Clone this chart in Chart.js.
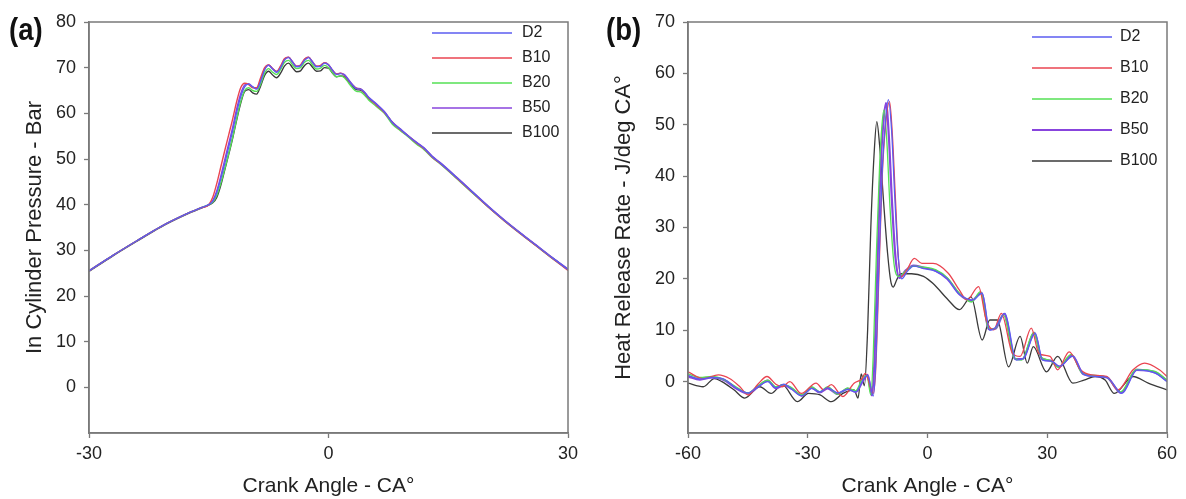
<!DOCTYPE html>
<html>
<head>
<meta charset="utf-8">
<script src="https://cdn.jsdelivr.net/npm/chart.js@4.4.1/dist/chart.umd.min.js"></script>
<style>
	html, body { margin: 0; padding: 0; background: #fff; }
	.charts { position: relative; width: 1186px; height: 499px; overflow: hidden; }
	.charts canvas { position: absolute; top: 0; }
	#chart__pressure { left: 0; }
	#chart__hrr { left: 593px; }
</style>
</head>
<body>
<div class="charts">
	<canvas id="chart__pressure" width="593" height="499"></canvas>
	<canvas id="chart__hrr" width="593" height="499"></canvas>
</div>
<script>
// Axis ticks
const pressureXTicks = [-30, 0, 30];
const pressureYTicks = [0, 10, 20, 30, 40, 50, 60, 70, 80];
const hrrXTicks = [-60, -30, 0, 30, 60];
const hrrYTicks = [0, 10, 20, 30, 40, 50, 60, 70];

const fuelLabels = ["D2", "B10", "B20", "B50", "B100"];

// (a) in cylinder pressure, bar
const pressureAngle = [-30, -27, -24, -21, -18, -16, -15, -14.5, -14, -13.5, -13, -12.5, -12, -11.5, -11, -10.5, -10, -9.5, -9, -8.5, -8, -7.5, -7, -6.5, -6, -5.5, -5, -4.5, -4, -3.5, -3, -2.5, -2, -1.5, -1, -0.5, 0, 0.5, 1, 1.5, 2, 2.5, 3, 3.5, 4, 4.5, 5, 6, 7, 8, 9, 10, 11, 12, 13, 14, 16, 18, 20, 22, 24, 26, 28, 30];
const pressureD2 = [25.5, 28.9, 32.1, 35.2, 37.8, 39.3, 40.0, 40.7, 42.6, 45.6, 49.0, 52.6, 56.2, 60.2, 63.6, 65.8, 66.4, 65.8, 65.3, 67.0, 69.5, 70.5, 69.7, 69.0, 70.0, 71.7, 72.2, 71.2, 70.2, 70.4, 71.6, 72.2, 71.2, 70.2, 70.3, 71.0, 70.6, 69.4, 68.5, 68.7, 68.4, 67.3, 66.2, 65.4, 65.3, 64.6, 63.5, 62.0, 60.3, 58.0, 56.5, 55.0, 53.6, 52.3, 50.5, 49.1, 46.0, 42.8, 39.6, 36.6, 33.8, 31.1, 28.4, 25.8];
const pressureB10 = [25.5, 28.9, 32.1, 35.2, 37.8, 39.3, 40.0, 41.6, 44.6, 48.2, 51.8, 55.3, 58.8, 62.6, 65.6, 66.6, 66.3, 65.6, 65.6, 67.8, 70.0, 70.6, 69.8, 69.2, 70.4, 72.0, 72.3, 71.2, 70.3, 70.6, 71.9, 72.3, 71.2, 70.3, 70.5, 71.1, 70.6, 69.4, 68.6, 68.8, 68.3, 67.2, 66.2, 65.5, 65.3, 64.5, 63.4, 61.8, 60.2, 58.0, 56.4, 55.0, 53.5, 52.2, 50.4, 49.0, 45.9, 42.7, 39.5, 36.5, 33.7, 31.0, 28.3, 25.6];
const pressureB20 = [25.5, 28.9, 32.1, 35.2, 37.8, 39.3, 40.0, 40.5, 42.0, 44.6, 47.8, 51.2, 54.8, 58.8, 62.5, 65.0, 65.6, 65.0, 64.8, 66.4, 68.8, 69.8, 69.0, 68.5, 69.6, 71.2, 71.6, 70.6, 69.8, 70.0, 71.2, 71.6, 70.6, 69.7, 69.9, 70.5, 70.0, 68.9, 68.0, 68.2, 67.8, 66.7, 65.6, 64.8, 64.7, 64.0, 63.0, 61.5, 60.0, 57.6, 56.2, 54.8, 53.3, 52.0, 50.3, 48.9, 45.8, 42.6, 39.5, 36.5, 33.7, 31.0, 28.3, 25.7];
const pressureB50 = [25.5, 28.9, 32.1, 35.2, 37.8, 39.3, 40.0, 40.9, 43.0, 46.2, 49.8, 53.4, 57.0, 61.0, 64.3, 66.2, 66.5, 65.8, 65.4, 67.2, 69.8, 70.6, 69.8, 69.1, 70.2, 71.9, 72.3, 71.3, 70.3, 70.5, 71.8, 72.3, 71.3, 70.3, 70.4, 71.1, 70.7, 69.5, 68.6, 68.8, 68.5, 67.4, 66.3, 65.5, 65.4, 64.7, 63.6, 62.1, 60.4, 58.1, 56.6, 55.1, 53.7, 52.4, 50.6, 49.2, 46.1, 42.9, 39.7, 36.7, 33.9, 31.2, 28.5, 25.9];
const pressureB100 = [25.4, 28.8, 32.0, 35.1, 37.7, 39.2, 39.9, 40.4, 41.6, 44.2, 47.6, 51.0, 54.6, 58.6, 62.2, 64.8, 65.2, 64.5, 64.2, 66.0, 68.3, 69.2, 68.4, 67.8, 68.8, 70.4, 71.0, 70.0, 69.1, 69.3, 70.5, 71.0, 70.1, 69.2, 69.3, 70.0, 69.9, 68.8, 68.0, 68.2, 68.0, 67.0, 66.0, 65.2, 65.1, 64.4, 63.3, 61.9, 60.2, 58.0, 56.4, 55.0, 53.6, 52.3, 50.5, 49.1, 46.0, 42.8, 39.6, 36.6, 33.8, 31.1, 28.4, 25.8];

// (b) heat release rate, J/deg CA (each fuel has its own angles)
const hrrAngleD2 = [-60, -57, -54, -51, -48, -45, -42.5, -40, -38, -36, -34, -31.5, -29, -27, -25, -22.5, -20, -18, -16, -15, -13.6, -13, -12.2, -11.4, -10.6, -9.8, -9, -8.2, -7.4, -6.5, -5, -3.5, -1, 2, 5, 8, 11.3, 13.7, 15.6, 17, 19.4, 22.2, 24, 27, 28.8, 31, 33, 36.4, 39, 42, 45, 48.7, 52.5, 57.2, 60];
const hrrD2 = [1.2, 0.5, 0.8, 0.5, -1.2, -2.2, -1, 0, -1.2, -0.5, -1.5, -2.8, -1.3, -2, -1.2, -2.2, -1.5, -2, 0.5, 1.2, -2.8, 3, 22, 40, 50, 54.9, 49, 36, 25, 20, 21.5, 22.5, 22, 21.5, 20, 17, 15.9, 17.2, 10, 10.5, 13.3, 4.2, 4.5, 9.4, 4.2, 4, 3, 4.9, 1.5, 1, 0.8, -2.3, 2.3, 1.6, 0];
const hrrAngleB10 = [-60, -56.2, -52.4, -49.6, -47, -44.9, -42.5, -40.2, -38, -36.4, -34.5, -31.6, -27.9, -26, -24.1, -21.2, -18.4, -16.5, -15.6, -13.6, -13, -12.2, -11.4, -10.5, -9.5, -8.8, -8, -7.3, -6.6, -5.2, -3.3, -1.4, 1.4, 5.2, 8, 9.9, 12.8, 14.7, 16.6, 18.5, 21.3, 23.2, 26, 27.9, 30.7, 32.6, 35.5, 38.3, 41.1, 44.9, 47.7, 51.5, 54.4, 58.1, 60];
const hrrB10 = [1.9, 0.6, 1.3, 0.6, -1, -2.6, -0.5, 1, -0.5, -1, 0, -2.3, -0.3, -1.6, -0.6, -2.9, -0.3, 0.5, 1.6, -2.3, 2, 20, 39, 50, 54.5, 48, 35, 24, 20.4, 21.7, 24, 23, 23, 21.1, 17.8, 15.9, 18.5, 12, 10.1, 13.3, 5.5, 4.9, 10.4, 5.5, 4.9, 2.3, 5.8, 2.3, 1.3, 1, -1.6, 2.3, 3.6, 2.3, 1];
const hrrAngleB20 = [-60, -57, -54, -51, -48, -45, -42.5, -40, -38, -36, -34, -31.5, -29, -27, -25, -22.5, -20, -18, -16.2, -15.2, -14.2, -13.6, -12.8, -12, -11.4, -10.9, -10.2, -9.4, -8.4, -7.2, -5.5, -3.5, -1, 2, 5, 8, 11, 13.3, 15.2, 16.8, 19, 21.8, 23.6, 26.6, 28.4, 30.6, 32.8, 36, 38.8, 42, 45, 48.4, 52.3, 57, 60];
const hrrB20 = [1.5, 0.8, 1, 0.4, -1, -2.2, -0.8, 0.3, -1, -0.6, -1.2, -2.6, -1, -2, -1, -2.5, -1.2, -1.8, 0.8, 1.2, -2.6, 5, 25, 42, 50, 52.9, 47, 34, 23, 20.5, 21.5, 22.5, 22.3, 21.8, 20.2, 17.2, 15.5, 17.5, 10.5, 10.2, 13, 4.6, 4.2, 9.6, 4.8, 4.2, 2.8, 5.3, 1.6, 1.2, 0.8, -2, 2.4, 2, 0.3];
const hrrAngleB50 = [-60, -57, -54, -51, -48, -45, -42.5, -40, -38, -36, -34, -31.5, -29, -27, -25, -22.5, -20, -18, -16, -15, -13.9, -13.3, -12.5, -11.8, -11.1, -10.4, -9.7, -8.9, -8, -7, -5.5, -3.5, -1, 2, 5, 8, 11, 13.5, 15.4, 17, 19.2, 22, 23.8, 26.8, 28.6, 30.8, 33, 36.2, 39, 42, 45, 48.5, 52.4, 57, 60];
const hrrB50 = [1, 0.4, 0.8, 0.3, -1.3, -2.3, -1, 0.2, -1.3, -0.7, -1.4, -2.7, -1.2, -2.1, -1.3, -2.4, -1.4, -2, 0.4, 1.3, -2.7, 4, 24, 41, 50, 54.2, 48, 35, 24, 20.2, 21.6, 22.6, 22.2, 21.6, 20, 17, 15.7, 17.3, 10.2, 10.3, 13.2, 4.4, 4.4, 9.5, 4.5, 4.1, 2.9, 5.1, 1.5, 1.1, 0.8, -2.2, 2.3, 1.8, 0.2];
const hrrAngleB100 = [-60, -56.2, -53.4, -51.5, -48.5, -45.8, -42, -39.2, -36.4, -32.6, -29.8, -26.9, -24.1, -21.2, -18.4, -17.4, -16.6, -15.8, -15, -14.2, -13.4, -12.7, -12, -11, -10, -9.2, -8.6, -7.6, -6.6, -4, -1, 1.4, 5.2, 8, 10.9, 13.7, 15.6, 17.5, 20.3, 23.2, 25, 26.5, 29.8, 32.6, 36.4, 39.2, 42, 44.5, 46.8, 51.5, 55.3, 60];
const hrrB100 = [-0.3, -1, 0.6, 0, -1.6, -3.2, -1, -2.3, -0.6, -3.9, -2.3, -2.6, -3.9, -2.3, -1.6, -3.2, 1.5, -0.8, 10, 30, 44, 50.6, 46, 35, 25, 19.5, 18.4, 20, 21, 21, 20.5, 19.1, 15.9, 14, 16.5, 8.1, 12, 12, 2.9, 8.8, 3.6, 6.8, 1.9, 4.9, -0.3, 0.3, 1, 0.3, -2.3, 1, -0.3, -1.6];

// Line styles per fuel
const fuelColors = ["#5b5cf0", "#ea4450", "#55e055", "#8844dd", "#3a3a3a"];
const pressureWidths = [1.4, 1.4, 1.4, 1.4, 1.4];
const hrrWidths = [1.3, 1.3, 1.3, 2.2, 1.3];

const fontFamily = "'Liberation Sans', Arial, sans-serif";
const axisColor = "#7a7a7a";
const textColor = "#222";

document.addEventListener("DOMContentLoaded", () => {
	Chart.defaults.font.family = fontFamily;
	initChartPressure();
	initChartHrr();
});

// Pair x and y arrays into points
const toPoints = (xs, ys) => xs.map((x, i) => ({ x, y: ys[i] }));

// Build line datasets for the five fuels
const buildDatasets = (series, widths) =>
	series.map(([xs, ys], i) => ({
		label: fuelLabels[i],
		data: toPoints(xs, ys),
		borderColor: fuelColors[i],
		borderWidth: widths[i],
		pointRadius: 0,
		fill: false,
		cubicInterpolationMode: "monotone",
	}));

// Box around the plot area
const framePlugin = {
	id: "frame",
	afterDatasetsDraw: (chart) => {
		const { ctx, chartArea } = chart;
		ctx.save();
		ctx.strokeStyle = axisColor;
		ctx.lineWidth = 1.5;
		ctx.strokeRect(chartArea.left, chartArea.top, chartArea.right - chartArea.left, chartArea.bottom - chartArea.top);
		ctx.restore();
	},
};

// Legend drawn inside the plot, top right
const insetLegendPlugin = {
	id: "insetLegend",
	afterDraw: (chart, args, opts) => {
		const { ctx, chartArea } = chart;
		ctx.save();
		ctx.font = `16px ${fontFamily}`;
		ctx.textBaseline = "middle";
		ctx.textAlign = "left";
		chart.data.datasets.forEach((ds, i) => {
			const y = chartArea.top + opts.firstRow + i * opts.rowGap;
			ctx.strokeStyle = ds.borderColor;
			ctx.lineWidth = ds.borderWidth;
			ctx.beginPath();
			ctx.moveTo(chartArea.right - opts.lineStart, y);
			ctx.lineTo(chartArea.right - opts.lineEnd, y);
			ctx.stroke();
			ctx.fillStyle = textColor;
			ctx.fillText(ds.label, chartArea.right - opts.lineEnd + opts.textGap, y);
		});
		ctx.restore();
	},
};

// Panel tag such as (a)
const panelTagPlugin = {
	id: "panelTag",
	afterDraw: (chart, args, opts) => {
		const { ctx } = chart;
		ctx.save();
		ctx.font = `bold 32px ${fontFamily}`;
		ctx.fillStyle = "#111";
		ctx.textBaseline = "alphabetic";
		ctx.translate(opts.x, opts.y);
		ctx.scale(0.86, 1);
		ctx.fillText(opts.text, 0, 0);
		ctx.restore();
	},
};

// Shared scale setup
const buildScales = ({ xTicks, yTicks, xMin, xMax, yMin, yMax, yTitle, yWidth, yTitlePad }) => ({
	x: {
		type: "linear",
		min: xMin,
		max: xMax,
		afterBuildTicks: (scale) => {
			scale.ticks = xTicks.map((value) => ({ value }));
		},
		afterFit: (scale) => {
			scale.height = 66;
		},
		ticks: { font: { size: 18 }, color: textColor, padding: 5, maxRotation: 0, autoSkip: false },
		grid: { drawOnChartArea: false, drawTicks: true, tickLength: 5, color: axisColor, tickWidth: 1.3 },
		border: { display: true, color: axisColor, width: 1.5 },
		title: { display: true, text: "Crank Angle - CA°", font: { size: 21 }, color: textColor, padding: { top: 0, bottom: 0 } },
	},
	y: {
		type: "linear",
		min: yMin,
		max: yMax,
		afterBuildTicks: (scale) => {
			scale.ticks = yTicks.map((value) => ({ value }));
		},
		afterFit: (scale) => {
			scale.width = yWidth;
		},
		ticks: { font: { size: 18 }, color: textColor, padding: 8, autoSkip: false },
		grid: { drawOnChartArea: false, drawTicks: true, tickLength: 5, color: axisColor, tickWidth: 1.3 },
		border: { display: true, color: axisColor, width: 1.5 },
		title: { display: true, text: yTitle, font: { size: 22 }, color: textColor, padding: { top: yTitlePad, bottom: 0 } },
	},
});

const baseOptions = (scales, legendOpts, tagOpts, rightPad) => ({
	responsive: false,
	animation: false,
	devicePixelRatio: 1,
	events: [],
	layout: { padding: { left: 0, top: 22, right: rightPad, bottom: 0 } },
	plugins: {
		legend: { display: false },
		tooltip: { enabled: false },
		insetLegend: legendOpts,
		panelTag: tagOpts,
	},
	scales,
});

const createChart = (ctx, data, options) =>
	new Chart(ctx, {
		type: "line",
		data,
		options,
		plugins: [framePlugin, insetLegendPlugin, panelTagPlugin],
	});

// (a) In cylinder pressure
const initChartPressure = () => {
	const ctx = document.getElementById("chart__pressure");
	if (!ctx) return;
	const series = [pressureD2, pressureB10, pressureB20, pressureB50, pressureB100].map((ys) => [pressureAngle, ys]);
	const data = { datasets: buildDatasets(series, pressureWidths) };
	const scales = buildScales({
		xTicks: pressureXTicks,
		yTicks: pressureYTicks,
		xMin: -30,
		xMax: 30,
		yMin: -10,
		yMax: 80,
		yTitle: "In Cylinder Pressure - Bar",
		yWidth: 89,
		yTitlePad: 22,
	});
	const legendOpts = { lineStart: 136, lineEnd: 56, textGap: 10, firstRow: 11, rowGap: 25 };
	const tagOpts = { text: "(a)", x: 9, y: 40 };
	createChart(ctx, data, baseOptions(scales, legendOpts, tagOpts, 25));
};

// (b) Heat release rate
const initChartHrr = () => {
	const ctx = document.getElementById("chart__hrr");
	if (!ctx) return;
	const series = [
		[hrrAngleD2, hrrD2],
		[hrrAngleB10, hrrB10],
		[hrrAngleB20, hrrB20],
		[hrrAngleB50, hrrB50],
		[hrrAngleB100, hrrB100],
	];
	const data = { datasets: buildDatasets(series, hrrWidths) };
	const scales = buildScales({
		xTicks: hrrXTicks,
		yTicks: hrrYTicks,
		xMin: -60,
		xMax: 60,
		yMin: -10,
		yMax: 70,
		yTitle: "Heat Release Rate - J/deg CA°",
		yWidth: 95,
		yTitlePad: 18,
	});
	const legendOpts = { lineStart: 135, lineEnd: 55, textGap: 8, firstRow: 15, rowGap: 31 };
	const tagOpts = { text: "(b)", x: 13, y: 40 };
	createChart(ctx, data, baseOptions(scales, legendOpts, tagOpts, 19));
};
</script>
</body>
</html>
